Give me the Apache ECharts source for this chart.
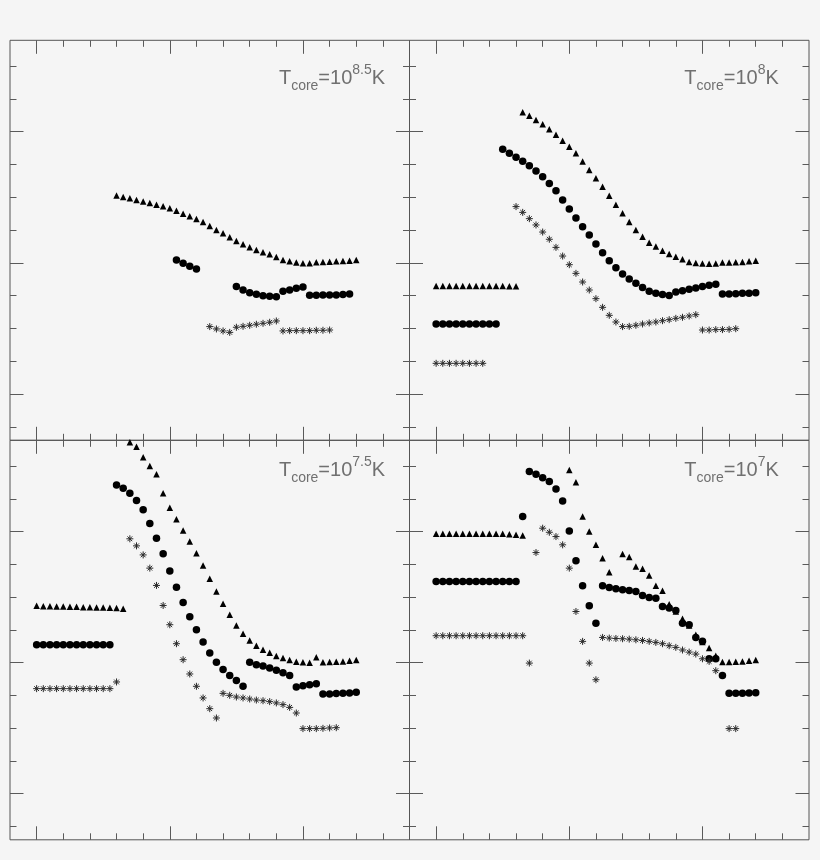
<!DOCTYPE html>
<html>
<head>
<meta charset="utf-8">
<script src="https://cdn.jsdelivr.net/npm/echarts@6/dist/echarts.min.js"></script>
<style>
html,body{margin:0;padding:0;background:#f5f5f5;}
#chart{width:820px;height:860px;}
</style>
</head>
<body>
<div id="chart"></div>
<script>
// ---------- tick labels / tick positions ----------
const xMajorTicks = [0, 1, 2];
const xMinorTicks = [0.2, 0.4, 0.6, 0.8, 1.2, 1.4, 1.6, 1.8, 2.2, 2.4, 2.6];
const yMajorTicks = [0, -1, -2];
const yMinorTicks = [0.5, 0.25, -0.25, -0.5, -0.75, -1.25, -1.5, -1.75, -2.25];

// ---------- panel titles (exponent of T_core) ----------
const panelExponents = ['8.5', '8', '7.5', '7'];

// ---------- data: T_core = 10^8.5 K ----------
const p85Tri = [[0.60,-0.487],[0.65,-0.498],[0.70,-0.508],[0.75,-0.521],[0.80,-0.533],[0.85,-0.543],[0.90,-0.556],[0.95,-0.569],[1.00,-0.584],[1.05,-0.602],[1.10,-0.625],[1.15,-0.645],[1.20,-0.665],[1.25,-0.688],[1.30,-0.719],[1.35,-0.749],[1.40,-0.775],[1.45,-0.805],[1.50,-0.833],[1.55,-0.859],[1.60,-0.881],[1.65,-0.902],[1.70,-0.920],[1.75,-0.935],[1.80,-0.955],[1.85,-0.978],[1.90,-0.988],[1.95,-0.998],[2.00,-1.003],[2.05,-1.003],[2.10,-0.996],[2.15,-0.993],[2.20,-0.991],[2.25,-0.988],[2.30,-0.986],[2.35,-0.983],[2.40,-0.978]];
const p85Cir = [[1.05,-0.978],[1.10,-1.003],[1.15,-1.026],[1.20,-1.047],
  [1.50,-1.181],[1.55,-1.207],[1.60,-1.227],[1.65,-1.240],[1.70,-1.250],[1.75,-1.255],[1.80,-1.258],
  [1.85,-1.217],[1.90,-1.207],[1.95,-1.194],[2.00,-1.184],
  [2.05,-1.247],[2.10,-1.247],[2.15,-1.245],[2.20,-1.245],[2.25,-1.245],[2.30,-1.242],[2.35,-1.237]];
const p85Ast = [[1.30,-1.486],[1.35,-1.504],[1.40,-1.519],[1.45,-1.530],
  [1.50,-1.491],[1.55,-1.484],[1.60,-1.476],[1.65,-1.468],[1.70,-1.461],[1.75,-1.453],[1.80,-1.443],
  [1.85,-1.519],[1.90,-1.517],[1.95,-1.517],[2.00,-1.517],[2.05,-1.517],[2.10,-1.514],[2.15,-1.514],[2.20,-1.512]];

// ---------- data: T_core = 10^8 K ----------
const p8Tri = [[0.00,-1.176],[0.05,-1.176],[0.10,-1.176],[0.15,-1.176],[0.20,-1.176],[0.25,-1.176],[0.30,-1.176],[0.35,-1.176],[0.40,-1.176],[0.45,-1.176],[0.50,-1.176],[0.55,-1.178],[0.60,-1.178],
  [0.65,0.148],[0.70,0.122],[0.75,0.089],[0.80,0.056],[0.85,0.018],[0.90,-0.023],[0.95,-0.068],[1.00,-0.114],[1.05,-0.165],[1.10,-0.228],[1.15,-0.292],[1.20,-0.355],[1.25,-0.419],[1.30,-0.488],[1.35,-0.556],[1.40,-0.622],[1.45,-0.688],[1.50,-0.749],[1.55,-0.800],[1.60,-0.846],[1.65,-0.876],[1.70,-0.907],[1.75,-0.932],[1.80,-0.953],[1.85,-0.973],[1.90,-0.993],[1.95,-1.001],[2.00,-1.004],[2.05,-1.006],[2.10,-1.004],[2.15,-0.998],[2.20,-0.998],[2.25,-0.996],[2.30,-0.993],[2.35,-0.988],[2.40,-0.983]];
const p8Cir = [[0.00,-1.466],[0.05,-1.466],[0.10,-1.466],[0.15,-1.466],[0.20,-1.466],[0.25,-1.466],[0.30,-1.466],[0.35,-1.466],[0.40,-1.466],[0.45,-1.466],
  [0.50,-0.134],[0.55,-0.165],[0.60,-0.195],[0.65,-0.226],[0.70,-0.259],[0.75,-0.300],[0.80,-0.343],[0.85,-0.394],[0.90,-0.450],[0.95,-0.520],[1.00,-0.589],[1.05,-0.658],[1.10,-0.724],[1.15,-0.788],[1.20,-0.856],[1.25,-0.922],[1.30,-0.983],[1.35,-1.037],[1.40,-1.085],[1.45,-1.123],[1.50,-1.156],[1.55,-1.187],[1.60,-1.217],[1.65,-1.232],[1.70,-1.242],[1.75,-1.248],
  [1.80,-1.222],[1.85,-1.212],[1.90,-1.202],[1.95,-1.192],[2.00,-1.181],[2.05,-1.171],[2.10,-1.164],
  [2.15,-1.237],[2.20,-1.237],[2.25,-1.235],[2.30,-1.232],[2.35,-1.232],[2.40,-1.227]];
const p8Ast = [[0.00,-1.766],[0.05,-1.766],[0.10,-1.766],[0.15,-1.766],[0.20,-1.766],[0.25,-1.766],[0.30,-1.766],[0.35,-1.766],
  [0.60,-0.571],[0.65,-0.615],[0.70,-0.663],[0.75,-0.711],[0.80,-0.765],[0.85,-0.820],[0.90,-0.882],[0.95,-0.948],[1.00,-1.014],[1.05,-1.080],[1.10,-1.146],[1.15,-1.207],[1.20,-1.273],[1.25,-1.339],[1.30,-1.400],[1.35,-1.451],[1.40,-1.486],
  [1.45,-1.484],[1.50,-1.476],[1.55,-1.466],[1.60,-1.458],[1.65,-1.451],[1.70,-1.441],[1.75,-1.433],[1.80,-1.423],[1.85,-1.415],[1.90,-1.405],[1.95,-1.395],
  [2.00,-1.512],[2.05,-1.512],[2.10,-1.509],[2.15,-1.509],[2.20,-1.507],[2.25,-1.502]];

// ---------- data: T_core = 10^7.5 K ----------
const p75Tri = [[0.00,-0.566],[0.05,-0.569],[0.10,-0.569],[0.15,-0.571],[0.20,-0.571],[0.25,-0.574],[0.30,-0.574],[0.35,-0.577],[0.40,-0.577],[0.45,-0.579],[0.50,-0.579],[0.55,-0.582],[0.60,-0.584],[0.65,-0.589],
  [0.70,0.682],[0.75,0.648],[0.80,0.567],[0.85,0.501],[0.90,0.437],[0.95,0.293],[1.00,0.183],[1.05,0.094],[1.10,0.008],[1.15,-0.076],[1.20,-0.165],[1.25,-0.259],[1.30,-0.360],[1.35,-0.457],[1.40,-0.551],[1.45,-0.635],[1.50,-0.716],[1.55,-0.780],[1.60,-0.831],[1.65,-0.871],[1.70,-0.902],[1.75,-0.925],[1.80,-0.950],[1.85,-0.965],[1.90,-0.981],[1.95,-0.993],[2.00,-0.998],[2.05,-1.001],
  [2.10,-0.960],[2.15,-0.998],[2.20,-0.996],[2.25,-0.993],[2.30,-0.991],[2.35,-0.986],[2.40,-0.981]];
const p75Cir = [[0.00,-0.864],[0.05,-0.864],[0.10,-0.864],[0.15,-0.864],[0.20,-0.864],[0.25,-0.864],[0.30,-0.864],[0.35,-0.864],[0.40,-0.864],[0.45,-0.864],[0.50,-0.864],[0.55,-0.864],
  [0.60,0.356],[0.65,0.331],[0.70,0.293],[0.75,0.237],[0.80,0.166],[0.85,0.061],[0.90,-0.050],[0.95,-0.170],[1.00,-0.300],[1.05,-0.424],[1.10,-0.541],[1.15,-0.650],[1.20,-0.749],[1.25,-0.843],[1.30,-0.927],[1.35,-0.998],[1.40,-1.052],[1.45,-1.098],[1.50,-1.136],[1.55,-1.181],
  [1.60,-0.998],[1.65,-1.016],[1.70,-1.026],[1.75,-1.042],[1.80,-1.059],[1.85,-1.077],[1.90,-1.098],
  [1.95,-1.187],[2.00,-1.176],[2.05,-1.169],[2.10,-1.161],
  [2.15,-1.240],[2.20,-1.240],[2.25,-1.237],[2.30,-1.235],[2.35,-1.232],[2.40,-1.227]];
const p75Ast = [[0.00,-1.199],[0.05,-1.199],[0.10,-1.199],[0.15,-1.199],[0.20,-1.199],[0.25,-1.199],[0.30,-1.199],[0.35,-1.199],[0.40,-1.199],[0.45,-1.199],[0.50,-1.199],[0.55,-1.199],[0.60,-1.148],
  [0.70,-0.055],[0.75,-0.109],[0.80,-0.178],[0.85,-0.279],[0.90,-0.411],[0.95,-0.564],[1.00,-0.711],[1.05,-0.856],[1.10,-0.978],[1.15,-1.087],[1.20,-1.181],[1.25,-1.270],[1.30,-1.352],[1.35,-1.423],
  [1.40,-1.235],[1.45,-1.250],[1.50,-1.263],[1.55,-1.270],[1.60,-1.278],[1.65,-1.286],[1.70,-1.291],[1.75,-1.298],[1.80,-1.308],[1.85,-1.321],[1.90,-1.342],[1.95,-1.385],
  [2.00,-1.504],[2.05,-1.504],[2.10,-1.504],[2.15,-1.502],[2.20,-1.499],[2.25,-1.497]];

// ---------- data: T_core = 10^7 K ----------
const p7Tri = [[0.00,-0.017],[0.05,-0.017],[0.10,-0.017],[0.15,-0.017],[0.20,-0.017],[0.25,-0.017],[0.30,-0.017],[0.35,-0.017],[0.40,-0.017],[0.45,-0.017],[0.50,-0.017],[0.55,-0.020],[0.60,-0.025],[0.65,-0.030],
  [1.00,0.470],[1.05,0.377],[1.10,0.115],[1.15,0.000],[1.20,-0.101],[1.25,-0.203],[1.30,-0.310],
  [1.40,-0.172],[1.45,-0.193],[1.50,-0.267],[1.55,-0.284],[1.60,-0.335],[1.65,-0.414],[1.70,-0.452],[1.75,-0.554],[1.80,-0.610],[1.85,-0.665],[1.90,-0.716],[1.95,-0.787],[2.00,-0.843],[2.05,-0.889],[2.10,-0.948],
  [2.15,-0.996],[2.20,-0.996],[2.25,-0.993],[2.30,-0.991],[2.35,-0.986],[2.40,-0.981]];
const p7Cir = [[0.00,-0.381],[0.05,-0.381],[0.10,-0.381],[0.15,-0.381],[0.20,-0.381],[0.25,-0.381],[0.30,-0.381],[0.35,-0.381],[0.40,-0.381],[0.45,-0.381],[0.50,-0.381],[0.55,-0.381],[0.60,-0.381],
  [0.65,0.115],
  [0.70,0.458],[0.75,0.437],[0.80,0.412],[0.85,0.382],[0.90,0.326],[0.95,0.234],[1.00,0.005],[1.05,-0.223],[1.10,-0.414],[1.15,-0.566],[1.20,-0.699],
  [1.25,-0.414],[1.30,-0.427],[1.35,-0.437],[1.40,-0.444],[1.45,-0.450],[1.50,-0.457],[1.55,-0.488],[1.60,-0.503],[1.65,-0.508],
  [1.70,-0.571],[1.75,-0.584],[1.80,-0.602],[1.85,-0.699],[1.90,-0.711],[1.95,-0.808],[2.00,-0.838],[2.05,-0.971],[2.10,-0.971],[2.15,-1.098],
  [2.20,-1.235],[2.25,-1.235],[2.30,-1.235],[2.35,-1.232],[2.40,-1.230]];
const p7Ast = [[0.00,-0.795],[0.05,-0.795],[0.10,-0.795],[0.15,-0.795],[0.20,-0.795],[0.25,-0.795],[0.30,-0.795],[0.35,-0.795],[0.40,-0.795],[0.45,-0.795],[0.50,-0.795],[0.55,-0.795],[0.60,-0.795],[0.65,-0.795],
  [0.70,-1.004],[0.75,-0.160],[0.80,0.026],[0.85,-0.005],[0.90,-0.038],[0.95,-0.101],[1.00,-0.279],[1.05,-0.610],[1.10,-0.838],[1.15,-1.004],[1.20,-1.131],
  [1.25,-0.808],[1.30,-0.813],[1.35,-0.816],[1.40,-0.818],[1.45,-0.821],[1.50,-0.826],[1.55,-0.831],[1.60,-0.838],[1.65,-0.846],[1.70,-0.856],[1.75,-0.871],[1.80,-0.884],[1.85,-0.904],[1.90,-0.920],[1.95,-0.935],[2.00,-0.971],[2.05,-0.991],[2.10,-1.062],
  [2.20,-1.504],[2.25,-1.504]];

const panels = [
  {tri: p85Tri, cir: p85Cir, ast: p85Ast},
  {tri: p8Tri,  cir: p8Cir,  ast: p8Ast},
  {tri: p75Tri, cir: p75Cir, ast: p75Ast},
  {tri: p7Tri,  cir: p7Cir,  ast: p7Ast}
];

// ---------- layout & style ----------
const X_MIN = -0.2, X_MAX = 2.8, Y_MIN = -2.353, Y_MAX = 0.697;
const FRAME = '#555555';
const TICK = '#5a5a5a';
const MINOR_LEN = 6.5, MAJOR_LEN = 13.5;
const gridBoxes = [
  {left: 10,    top: 40.3,  width: 399.5, height: 400},
  {left: 409.5, top: 40.3,  width: 399.5, height: 400},
  {left: 10,    top: 440.3, width: 399.5, height: 399.5},
  {left: 409.5, top: 440.3, width: 399.5, height: 399.5}
];
const titleBoxes = [
  {left: 332,   top: 63},
  {left: 731.5, top: 63},
  {left: 332,   top: 455.5},
  {left: 731.5, top: 455.5}
];
const ASTERISK = 'path://M5,0 L5,10 M0,5 L10,5 M1.6,1.6 L8.4,8.4 M1.6,8.4 L8.4,1.6';
const TITLE_FONT = 'Liberation Sans';
const TITLE_COLOR = '#707070';

const grid = [], xAxis = [], yAxis = [], series = [], title = [];

function tickAxis(kind, gi, position, values, len) {
  const base = {
    gridIndex: gi, type: 'value', position: position,
    axisLine: {show: false, onZero: false},
    axisLabel: {show: false},
    splitLine: {show: false},
    minorTick: {show: false},
    axisTick: {show: true, inside: true, length: len, customValues: values,
               lineStyle: {color: TICK, width: 1}}
  };
  if (kind === 'x') { base.min = X_MIN; base.max = X_MAX; }
  else { base.min = Y_MIN; base.max = Y_MAX; }
  return base;
}

gridBoxes.forEach(function (b, gi) {
  grid.push(Object.assign({show: true, borderColor: FRAME, borderWidth: 1,
                           backgroundColor: 'transparent', containLabel: false}, b));
  const xBase = xAxis.length, yBase = yAxis.length;
  xAxis.push(tickAxis('x', gi, 'bottom', xMinorTicks, MINOR_LEN));
  xAxis.push(tickAxis('x', gi, 'bottom', xMajorTicks, MAJOR_LEN));
  xAxis.push(tickAxis('x', gi, 'top', xMinorTicks, MINOR_LEN));
  xAxis.push(tickAxis('x', gi, 'top', xMajorTicks, MAJOR_LEN));
  yAxis.push(tickAxis('y', gi, 'left', yMinorTicks, MINOR_LEN));
  yAxis.push(tickAxis('y', gi, 'left', yMajorTicks, MAJOR_LEN));
  yAxis.push(tickAxis('y', gi, 'right', yMinorTicks, MINOR_LEN));
  yAxis.push(tickAxis('y', gi, 'right', yMajorTicks, MAJOR_LEN));

  const p = panels[gi];
  series.push({
    type: 'scatter', xAxisIndex: xBase, yAxisIndex: yBase, data: p.cir,
    symbol: 'circle', symbolSize: 7.5, itemStyle: {color: '#000', opacity: 1}, silent: true
  });
  series.push({
    type: 'scatter', xAxisIndex: xBase, yAxisIndex: yBase, data: p.tri,
    symbol: 'triangle', symbolSize: 6.5, itemStyle: {color: '#000', opacity: 1}, silent: true
  });
  series.push({
    type: 'scatter', xAxisIndex: xBase, yAxisIndex: yBase, data: p.ast,
    symbol: ASTERISK, symbolSize: 7,
    itemStyle: {color: 'transparent', borderColor: '#2a2a2a', borderWidth: 1, opacity: 1}, silent: true
  });

  const tb = titleBoxes[gi];
  title.push({
    left: tb.left, top: tb.top, padding: 0,
    textAlign: 'center', textVerticalAlign: 'top',
    text: '{t|T}{s|core}{t|=10}{p|' + panelExponents[gi] + '}{t|K}',
    textStyle: {
      fontWeight: 'normal',
      rich: {
        t: {fontSize: 20, lineHeight: 30, fontWeight: 'normal', color: TITLE_COLOR, fontFamily: TITLE_FONT},
        s: {fontSize: 14, lineHeight: 18, fontWeight: 'normal', verticalAlign: 'bottom', color: TITLE_COLOR, fontFamily: TITLE_FONT},
        p: {fontSize: 14, lineHeight: 23, fontWeight: 'normal', verticalAlign: 'top', color: TITLE_COLOR, fontFamily: TITLE_FONT}
      }
    }
  });
});

const chart = echarts.init(document.getElementById('chart'), null, {renderer: 'canvas'});
chart.setOption({
  backgroundColor: '#f5f5f5',
  animation: false,
  title: title,
  grid: grid,
  xAxis: xAxis,
  yAxis: yAxis,
  series: series
});
</script>
</body>
</html>
